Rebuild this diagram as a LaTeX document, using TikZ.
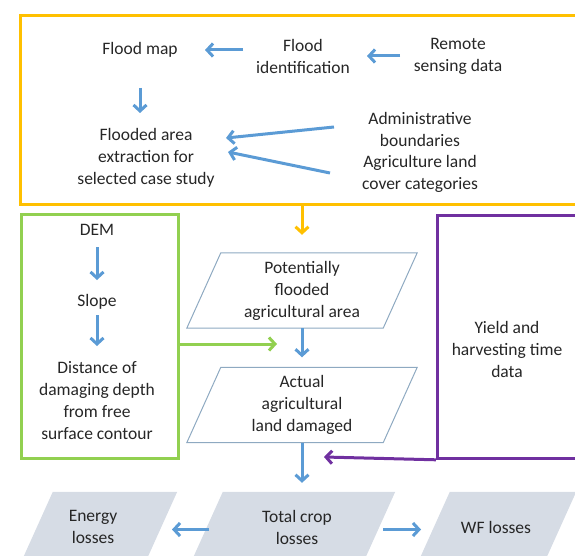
\documentclass[tikz,border=0pt]{standalone}
\usepackage{fontspec}
\setmainfont{Carlito}
\usepackage{tikz}
\usetikzlibrary{arrows.meta,calc}
\definecolor{arrblue}{HTML}{5B9BD5}
\definecolor{boxyellow}{HTML}{FFC000}
\definecolor{boxgreen}{HTML}{92D050}
\definecolor{boxpurple}{HTML}{7030A0}
\definecolor{paraline}{HTML}{8EA9C1}
\definecolor{parafill}{HTML}{D6DCE5}
\definecolor{txt}{HTML}{262626}

\begin{document}
\begin{tikzpicture}[x=1pt,y=-1pt,
  every node/.style={font=\fontsize{17.5}{22}\selectfont,text=txt,align=center,inner sep=0pt},
  arr/.style={line width=3pt,-{Straight Barb[length=6pt,width=13pt]}},
  barr/.style={arr,arrblue},
  pbox/.style={minimum height=75pt},
  frame/.style={draw,line width=2.8pt,anchor=north west}]
\useasboundingbox (0,0) rectangle (575,556);
\clip (0,0) rectangle (575,556);

%Рамки
\node[frame,draw=boxyellow,minimum width=580pt,minimum height=189pt] (ybox) at (19,14) {};
\node[frame,draw=boxgreen,minimum width=157pt,minimum height=244pt] (gbox) at (20,213) {};
\node[frame,draw=boxpurple,minimum width=160pt,minimum height=243pt] (prbox) at (436,214) {};

%Верхний блок
\node (fmap) at (140,50) {Flood map};
\node (fident) at (303,56) {Flood\\identification};
\node (rsens) at (458,56) {Remote\\sensing data};
\node (farea) at (146,158) {Flooded area\\extraction for\\selected case study};
\node (admin) at (420,129) {Administrative\\boundaries};
\node (agric) at (420,174) {Agriculture land\\cover categories};

\draw[barr,shorten <=60pt,shorten >=65pt] (fident.center |- fmap.center) -- (fmap.center);
\draw[barr,shorten <=58pt,shorten >=64pt] (rsens.center) -- (fident.center);
\draw[barr,shorten <=38pt,shorten >=45pt] (fmap.center) -- (fmap.center |- farea.center);
\draw[barr] ($(admin.center)+(-86,-2)$) -- ($(farea.center)+(80,-20)$);
\draw[barr] ($(agric.center)+(-90,-1)$) -- ($(farea.center)+(82,-6)$);

%Левый блок
\node (dem) at (97,230) {DEM};
\node (slope) at (97,302) {Slope};
\node (ddist) at (97,401) {Distance of\\damaging depth\\from free\\surface contour};
\draw[barr,shorten <=17pt,shorten >=22pt] (dem.center) -- (slope.center);
\draw[barr,shorten <=13pt,shorten >=55pt] (slope.center) -- (ddist.center);

%Параллелограммы
\node[pbox,minimum width=196pt] (pflood) at (302,290.5) {Potentially\\flooded\\agricultural area};
\node[pbox,minimum width=196pt] (adamage) at (302,405) {Actual\\agricultural\\land damaged};
\draw[paraline,line width=1pt] ([xshift=-17pt]pflood.south west) -- ([xshift=-17pt]pflood.south east)
  -- ([xshift=17pt]pflood.north east) -- ([xshift=17pt]pflood.north west) -- cycle;
\draw[paraline,line width=1pt] ([xshift=-17pt]adamage.south west) -- ([xshift=-17pt]adamage.south east)
  -- ([xshift=17pt]adamage.north east) -- ([xshift=17pt]adamage.north west) -- cycle;

\node (yieldt) at (507,349) {Yield and\\harvesting time\\data};

%Нижний ряд
\node[pbox,minimum width=124pt] (energy) at (98,529.5) {};
\node[pbox,minimum width=172pt] (total) at (292,529.5) {};
\node[pbox,minimum width=126pt] (wfloss) at (496,529.5) {};
\fill[parafill] ([xshift=-17pt]energy.south west) -- ([xshift=-17pt]energy.south east)
  -- ([xshift=17pt]energy.north east) -- ([xshift=17pt]energy.north west) -- cycle;
\fill[parafill] ([xshift=-17pt]total.south west) -- ([xshift=-17pt]total.south east)
  -- ([xshift=17pt]total.north east) -- ([xshift=17pt]total.north west) -- cycle;
\fill[parafill] ([xshift=-17pt]wfloss.south west) -- ([xshift=-17pt]wfloss.south east)
  -- ([xshift=17pt]wfloss.north east) -- ([xshift=17pt]wfloss.north west) -- cycle;
\node at (93,527) {Energy\\losses};
\node at (297,527) {Total crop\\losses};
\node at (496,527) {WF losses};

%Связи между блоками
\coordinate (gtip) at (277,344);
\coordinate (ptip) at (324,457);
\draw[arr,boxyellow,shorten >=18pt] (pflood.north |- ybox.south) -- (pflood.north);
\draw[arr,boxgreen] (gbox.east |- gtip) -- (gtip);
\draw[arr,boxpurple] (prbox.south west) -- (ptip);
\draw[barr,shorten >=10pt] (pflood.south) -- (adamage.north);
\draw[barr,shorten >=9pt] (adamage.south) -- (adamage.south |- total.north);
\draw[barr,shorten <=83pt,shorten >=74pt] (total.center) -- (energy.center);
\draw[barr,shorten <=91pt,shorten >=75pt] (total.center) -- (wfloss.center);

\end{tikzpicture}
\end{document}
